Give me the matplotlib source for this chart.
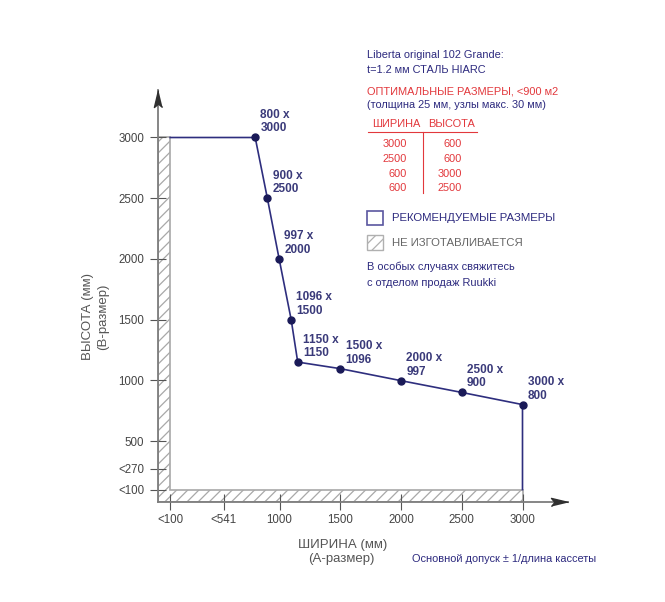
import matplotlib
matplotlib.use("Agg")
import matplotlib.pyplot as plt
from matplotlib.patches import Polygon, Rectangle
from matplotlib.lines import Line2D

plt.rcParams['font.family'] = ['Liberation Sans Narrow', 'Liberation Sans', 'DejaVu Sans']
plt.rcParams['hatch.linewidth'] = 0.9

# ---------------- data ----------------
widths = [800, 900, 997, 1096, 1150, 1500, 2000, 2500, 3000]
heights = [3000, 2500, 2000, 1500, 1150, 1096, 997, 900, 800]
MIN_SIZE = 100
MAX_SIZE = 3000

x_ticks = [100, 541, 1000, 1500, 2000, 2500, 3000]
x_ticklabels = ['<100', '<541', '1000', '1500', '2000', '2500', '3000']
y_ticks = [100, 270, 500, 1000, 1500, 2000, 2500, 3000]
y_ticklabels = ['<100', '<270', '500', '1000', '1500', '2000', '2500', '3000']

opt_widths = ['3000', '2500', '600', '600']
opt_heights = ['600', '600', '3000', '2500']

# ---------------- style ----------------
NAVY = '#2d2a7f'
LINE = '#2e2e7e'
DOT = '#1a1a58'
LABEL = '#3a3a7a'
RED = '#e2383c'
GRAY_TXT = '#555555'
AXIS = '#7d7d7d'

W, H = 665, 602
fig = plt.figure(figsize=(W / 100, H / 100), dpi=100, facecolor='white')


def fx(x):
    return x / W


def fy(y):
    return 1 - y / H


# axes placed in pixel geometry
ax_left, ax_right, ax_bottom, ax_top = 158, 568, 501.7, 90
ax = fig.add_axes([fx(ax_left), fy(ax_bottom), (ax_right - ax_left) / W, (ax_bottom - ax_top) / H])
ax.set_facecolor('none')
ax.set_xlim(0, (ax_right - ax_left) / 0.1215)
ax.set_ylim(0, (ax_bottom - ax_top) / 0.1214)

for s in ['top', 'right']:
    ax.spines[s].set_visible(False)
for s in ['left', 'bottom']:
    ax.spines[s].set_color(AXIS)
    ax.spines[s].set_linewidth(1.3)

# not-manufactured L-shaped hatched zone
zone = Polygon([(0, 0), (0, MAX_SIZE), (MIN_SIZE, MAX_SIZE), (MIN_SIZE, MIN_SIZE),
                (MAX_SIZE, MIN_SIZE), (MAX_SIZE, 0)], closed=True,
               facecolor='white', edgecolor='#a8a8a8', hatch='///', lw=1.2, zorder=1)
ax.add_patch(zone)

# ticks
ax.set_xticks(x_ticks)
ax.set_xticklabels(x_ticklabels)
ax.set_yticks(y_ticks)
ax.set_yticklabels(y_ticklabels)
ax.tick_params(axis='both', direction='inout', length=12, width=0.8, color='#555555',
               labelsize=8.3, labelcolor='#444444')
ax.tick_params(axis='x', pad=2.5)
ax.tick_params(axis='y', pad=4)

# arrow heads
ax.plot(1, 0, marker=[(0, 0), (-2, 0.48), (-1.6, 0), (-2, -0.48)], ms=24.5,
        color='#303030', transform=ax.transAxes, clip_on=False, zorder=5)
ax.plot(0, 1, marker=[(0, 0), (-0.48, -2), (0, -1.6), (0.48, -2)], ms=24.5,
        color='#303030', transform=ax.transAxes, clip_on=False, zorder=5)

# recommended size boundary
line_x = [MIN_SIZE] + widths + [MAX_SIZE]
line_y = [MAX_SIZE] + heights + [MIN_SIZE]
ax.plot(line_x, line_y, color=LINE, lw=1.2, zorder=3, clip_on=False)
ax.plot(widths, heights, 'o', ms=5, color=DOT, zorder=4, clip_on=False)
for w, h in zip(widths, heights):
    ax.annotate(f"{w} x\n{h}", (w, h), xytext=(3.8, 2.2), textcoords='offset points',
                ha='left', va='bottom', fontsize=8.5, fontweight='bold', color=LABEL,
                linespacing=1.15, annotation_clip=False)

# ---------------- right panel texts ----------------
def t(x, y, s, **kw):
    kw.setdefault('va', 'baseline')
    kw.setdefault('ha', 'left')
    kw.setdefault('fontsize', 7.9)
    fig.text(fx(x), fy(y), s, **kw)


t(367, 58, 'Liberta original 102 Grande:', color=NAVY)
t(367, 72.7, 't=1.2 мм СТАЛЬ HIARC', color=NAVY)
t(367, 95, 'ОПТИМАЛЬНЫЕ РАЗМЕРЫ, <900 м2', color=RED)
t(367, 108.3, '(толщина 25 мм, узлы макс. 30 мм)', color=NAVY)
t(371.7, 127.3, 'ШИРИНА', color=RED)
t(427.7, 127.3, 'ВЫСОТА', color=RED)
fig.add_artist(Line2D([fx(368), fx(477.3)], [fy(131.7), fy(131.7)], color=RED, lw=0.8,
                      transform=fig.transFigure))
fig.add_artist(Line2D([fx(422.7), fx(422.7)], [fy(131.7), fy(192.7)], color=RED, lw=0.8,
                      transform=fig.transFigure))
row_y = [147.3, 162.0, 176.7, 191.3]
for yy, a, b in zip(row_y, opt_widths, opt_heights):
    t(406.7, yy, a, color=RED, ha='right')
    t(462.3, yy, b, color=RED, ha='right')

# legend
fig.add_artist(Rectangle((fx(367.3), fy(225)), 16 / W, 14.3 / H, transform=fig.transFigure,
                         facecolor='white', edgecolor='#5a56a0', lw=1.2))
t(391.7, 218, 'РЕКОМЕНДУЕМЫЕ РАЗМЕРЫ', color=NAVY, va='center', fontsize=8.2)
fig.add_artist(Rectangle((fx(367.3), fy(250)), 16 / W, 15 / H, transform=fig.transFigure,
                         facecolor='white', edgecolor='#b0b0b0', hatch='///', lw=1.0))
t(391.7, 242.5, 'НЕ ИЗГОТАВЛИВАЕТСЯ', color='#666666', va='center', fontsize=8.2)
t(367, 270, 'В особых случаях свяжитесь', color=NAVY)
t(367, 285.7, 'с отделом продаж Ruukki', color=NAVY)

# axis titles
fig.text(fx(88.3), fy(316.5), 'ВЫСОТА (мм)', rotation=90, ha='center', va='center',
         fontsize=9.5, color=GRAY_TXT)
fig.text(fx(103.3), fy(316.5), '(В-размер)', rotation=90, ha='center', va='center',
         fontsize=9.5, color=GRAY_TXT)
t(342.6, 547.7, 'ШИРИНА (мм)', ha='center', fontsize=9.5, color=GRAY_TXT)
t(341.7, 562.3, '(А-размер)', ha='center', fontsize=9.5, color=GRAY_TXT)
t(412.3, 561.7, 'Основной допуск ± 1/длина кассеты', color=NAVY)

fig.savefig('out.png', dpi=100, facecolor='white')
